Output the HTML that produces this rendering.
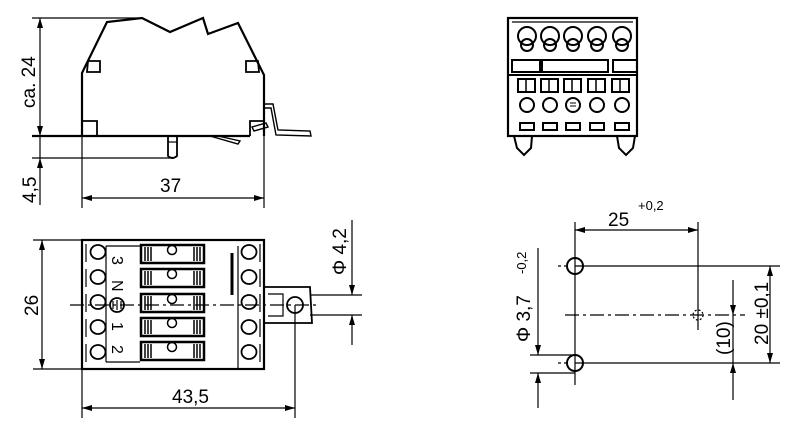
<!DOCTYPE html>
<html><head><style>
html,body{margin:0;padding:0;background:#fff;}
svg{display:block;}
text{font-family:"Liberation Sans Narrow","Liberation Sans",sans-serif;fill:#000;}
</style></head><body>
<svg width="800" height="434" viewBox="0 0 800 434" xmlns="http://www.w3.org/2000/svg">
<defs>
<marker id="a" viewBox="0 0 10 6" refX="10" refY="3" markerWidth="11" markerHeight="6" orient="auto-start-reverse" markerUnits="userSpaceOnUse"><path d="M0,0L10,3L0,6z" fill="#000"/></marker>
</defs>
<g stroke="#000" fill="none" stroke-width="1.2">
<!-- side view -->
<line x1="32" y1="18" x2="142" y2="18"/>
<path d="M82,136 L82,73 L107,22 L142,18 L170,32 L203,18 L208,34 L238,23 L264,75 L264,136" stroke-width="2.2"/>
<path d="M87,72 L88,61 L100,61 L100,72 Z" stroke-width="1.8"/>
<path d="M246,72 L246,61 L258,61 L259,72 Z" stroke-width="1.8"/>
<path d="M82,121 L97,121 L97,136" stroke-width="1.8"/>
<path d="M250,136 L250,121 L264,121" stroke-width="1.8"/>
<line x1="32" y1="136" x2="250" y2="136" stroke-width="2.2"/>
<path d="M168,136 L168,156 Q172,160 177,156 L177,136" stroke-width="1.8"/>
<line x1="168" y1="142" x2="177" y2="142"/>
<line x1="32" y1="158" x2="172" y2="158"/>
<path d="M210,136 L238,144 L240,141 L218,136" stroke-width="1.4"/>
<path d="M264,104 L273,104 L278,130 L310,131 L311,136 L276,135 L271,108 L264,108" stroke-width="1.4"/>
<path d="M252,127 L266,123 L268,127 L254,131 Z" stroke-width="1.4"/>
<line x1="40" y1="18" x2="40" y2="136" marker-start="url(#a)" marker-end="url(#a)"/>
<line x1="40" y1="136" x2="40" y2="158"/>
<line x1="40" y1="205" x2="40" y2="158" marker-end="url(#a)"/>
<line x1="82" y1="136" x2="82" y2="208"/>
<line x1="264" y1="136" x2="264" y2="208"/>
<line x1="82" y1="198" x2="264" y2="198" marker-start="url(#a)" marker-end="url(#a)"/>

<!-- top view -->
<line x1="33" y1="240" x2="82" y2="240"/>
<line x1="33" y1="369" x2="82" y2="369"/>
<line x1="42" y1="240" x2="42" y2="369" marker-start="url(#a)" marker-end="url(#a)"/>
<rect x="82" y="240" width="182" height="129" stroke-width="2.2"/>
<line x1="106" y1="246" x2="106" y2="362"/>
<line x1="106" y1="246" x2="140" y2="246"/>
<line x1="106" y1="362" x2="140" y2="362"/>
<line x1="238" y1="246" x2="238" y2="369"/>
<line x1="232" y1="253" x2="232" y2="295" stroke-width="3"/>
<line x1="70" y1="305" x2="320" y2="305" stroke-dasharray="14,4,3,4"/>
<g stroke-width="1.8">
<ellipse cx="98" cy="252" rx="7.5" ry="7"/><ellipse cx="98" cy="277" rx="7.5" ry="7"/><ellipse cx="98" cy="302" rx="7.5" ry="7"/><ellipse cx="98" cy="327" rx="7.5" ry="7"/><ellipse cx="98" cy="352" rx="7.5" ry="7"/>
<ellipse cx="249" cy="252" rx="7.5" ry="7"/><ellipse cx="249" cy="277" rx="7.5" ry="7"/><ellipse cx="249" cy="302" rx="7.5" ry="7"/><ellipse cx="249" cy="327" rx="7.5" ry="7"/><ellipse cx="249" cy="352" rx="7.5" ry="7"/>
</g>
<g stroke-width="1.2"><path d="M86,244V262M86,269V287M86,294V312M86,319V337M86,344V362M260,244V262M260,269V287M260,294V312M260,319V337M260,344V362"/></g>
<g stroke-width="2.5">
<rect x="141" y="245" width="63" height="18"/><rect x="141" y="269" width="63" height="18"/><rect x="141" y="294" width="63" height="18"/><rect x="141" y="318" width="63" height="18"/><rect x="141" y="342" width="63" height="18"/>
</g>
<g stroke-width="1.5">
<path d="M145,247V261M148,247V261M151,247V261M194,247V261M197,247V261M200,247V261M145,271V285M148,271V285M151,271V285M194,271V285M197,271V285M200,271V285M145,296V310M148,296V310M151,296V310M194,296V310M197,296V310M200,296V310M145,320V334M148,320V334M151,320V334M194,320V334M197,320V334M200,320V334M145,344V358M148,344V358M151,344V358M194,344V358M197,344V358M200,344V358"/>
<circle cx="172" cy="250" r="4.5"/><circle cx="172" cy="274" r="4.5"/><circle cx="172" cy="299" r="4.5"/><circle cx="172" cy="323" r="4.5"/><circle cx="172" cy="347" r="4.5"/>
</g>
<circle cx="117" cy="305" r="7" stroke-width="1.8"/>
<path d="M113,301V309M117,300V310M121,301V309" stroke-width="1.2"/>
<path d="M264,287 L310,287 L312,323 L264,323" stroke-width="1.8"/>
<path d="M268,294H283V316H268" stroke-width="1.2"/>
<circle cx="295" cy="305" r="8" stroke-width="1.8"/>
<line x1="82" y1="369" x2="82" y2="418"/>
<line x1="295" y1="305" x2="295" y2="418"/>
<line x1="82" y1="408" x2="295" y2="408" marker-start="url(#a)" marker-end="url(#a)"/>
<line x1="310" y1="295" x2="362" y2="295"/>
<line x1="310" y1="315" x2="362" y2="315"/>
<line x1="352" y1="220" x2="352" y2="295" marker-end="url(#a)"/>
<line x1="352" y1="345" x2="352" y2="315" marker-end="url(#a)"/>

<!-- front view -->
<rect x="508" y="18" width="129" height="118" stroke-width="2.2"/>
<line x1="512" y1="22" x2="633" y2="22"/>
<g stroke-width="2">
<circle cx="527" cy="36" r="9"/><circle cx="550" cy="36" r="9"/><circle cx="573" cy="36" r="9"/><circle cx="597" cy="36" r="9"/><circle cx="622" cy="36" r="9"/>
<circle cx="527" cy="45" r="6"/><circle cx="550" cy="45" r="6"/><circle cx="573" cy="45" r="6"/><circle cx="597" cy="45" r="6"/><circle cx="622" cy="45" r="6"/>
<rect x="512" y="60" width="30" height="12"/><rect x="540" y="60" width="68" height="12"/><rect x="613" y="60" width="24" height="12"/>
<line x1="508" y1="75" x2="637" y2="75"/>
<rect x="518" y="79" width="17" height="13"/><rect x="541" y="79" width="17" height="13"/><rect x="564" y="79" width="17" height="13"/><rect x="588" y="79" width="17" height="13"/><rect x="612" y="79" width="17" height="13"/>
<circle cx="527" cy="105" r="7"/><circle cx="550" cy="105" r="7"/><circle cx="573" cy="105" r="7"/><circle cx="597" cy="105" r="7"/><circle cx="622" cy="105" r="7"/>
<rect x="520" y="123" width="14" height="7"/><rect x="543" y="123" width="14" height="7"/><rect x="566" y="123" width="14" height="7"/><rect x="590" y="123" width="14" height="7"/><rect x="615" y="123" width="14" height="7"/>
</g>
<path d="M526,79V92M549,79V92M572,79V92M596,79V92M620,79V92" stroke-width="1.5"/>
<path d="M570,103H576M570,106H576" stroke-width="1"/>
<path d="M514,136 L517,148 L524,155 L531,148 L532,136" stroke-width="2"/>
<path d="M617,136 L619,148 L626,155 L633,148 L635,136" stroke-width="2"/>

<!-- hole pattern -->
<line x1="575" y1="222" x2="575" y2="385"/>
<line x1="698" y1="222" x2="698" y2="330"/>
<line x1="575" y1="230" x2="698" y2="230" marker-start="url(#a)" marker-end="url(#a)"/>
<line x1="575" y1="266" x2="780" y2="266"/>
<line x1="575" y1="363" x2="780" y2="363"/>
<line x1="558" y1="266" x2="566" y2="266" stroke-dasharray="3,3"/>
<line x1="558" y1="363" x2="566" y2="363" stroke-dasharray="3,3"/>
<line x1="565" y1="315" x2="745" y2="315" stroke-dasharray="14,4,3,4"/>
<circle cx="575" cy="266" r="8" stroke-width="2"/>
<circle cx="575" cy="363" r="8" stroke-width="2"/>
<circle cx="698" cy="315" r="5" stroke-dasharray="2,2"/>
<line x1="770" y1="266" x2="770" y2="363" marker-start="url(#a)" marker-end="url(#a)"/>
<line x1="733" y1="280" x2="733" y2="315" marker-end="url(#a)"/>
<line x1="733" y1="400" x2="733" y2="363" marker-end="url(#a)"/>
<line x1="733" y1="315" x2="733" y2="363"/>
<line x1="530" y1="355" x2="575" y2="355"/>
<line x1="530" y1="373" x2="575" y2="373"/>
<line x1="538" y1="248" x2="538" y2="355" marker-end="url(#a)"/>
<line x1="538" y1="408" x2="538" y2="373" marker-end="url(#a)"/>
</g>
<g font-size="19">
<text x="0" y="0" transform="translate(35,108) rotate(-90)">ca.  24</text>
<text x="0" y="0" transform="translate(36,203) rotate(-90)">4,5</text>
<text x="160" y="192">37</text>
<text x="0" y="0" transform="translate(38,316) rotate(-90)">26</text>
<text x="172" y="403">43,5</text>
<text x="0" y="0" transform="translate(346,275) rotate(-90)">Φ 4,2</text>
<text x="0" y="0" transform="translate(112,256) rotate(90)" font-size="16">3</text>
<text x="0" y="0" transform="translate(112,280) rotate(90)" font-size="16">N</text>
<text x="0" y="0" transform="translate(112,322) rotate(90)" font-size="16">1</text>
<text x="0" y="0" transform="translate(112,345) rotate(90)" font-size="16">2</text>
<text x="608" y="226">25</text>
<text x="638" y="210" font-size="13">+0,2</text>
<text x="0" y="0" transform="translate(768,345) rotate(-90)">20 ±0,1</text>
<text x="0" y="0" transform="translate(730,355) rotate(-90)">(10)</text>
<text x="0" y="0" transform="translate(530,342) rotate(-90)">Φ 3,7</text>
<text x="0" y="0" transform="translate(526,274) rotate(-90)" font-size="13">-0,2</text>
</g>
</svg>
</body></html>
